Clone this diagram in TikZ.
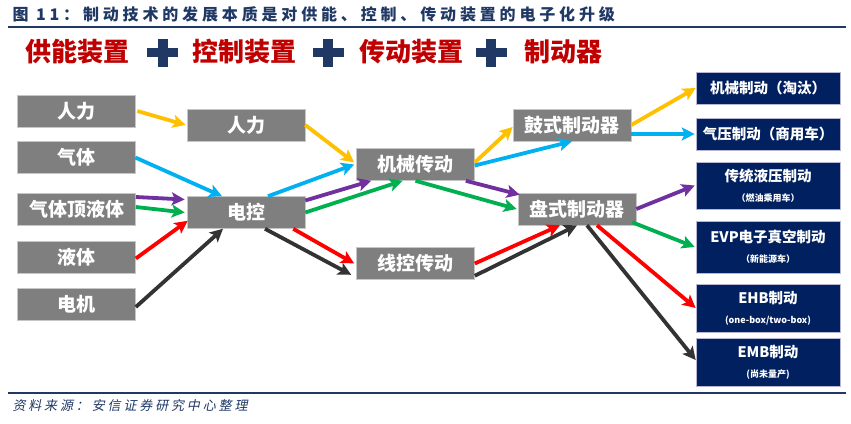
\documentclass[tikz,border=0pt]{standalone}
\usepackage{fontspec}
\setmainfont{Noto Sans CJK SC}
\newfontfamily\titlefont[LetterSpace=24]{Noto Sans CJK SC}
\newfontfamily\footfont[FakeSlant=0.2,LetterSpace=22]{Noto Sans CJK SC}
\usetikzlibrary{arrows.meta}

\definecolor{navy}{RGB}{0,32,96}
\definecolor{titleblue}{RGB}{31,56,100}
\definecolor{headred}{RGB}{192,0,0}
\definecolor{boxgray}{RGB}{127,127,127}
\definecolor{ayellow}{RGB}{255,192,0}
\definecolor{acyan}{RGB}{0,176,240}
\definecolor{apurple}{RGB}{112,48,160}
\definecolor{agreen}{RGB}{0,176,80}
\definecolor{ared}{RGB}{255,0,0}
\definecolor{ablack}{RGB}{51,51,51}

\begin{document}
\begin{tikzpicture}[
        x=1pt, y=1pt,
        graybox/.style={
            fill=boxgray,
            draw=gray!45,
            line width=0.6pt,
            minimum width=118pt,
            minimum height=32pt,
            inner sep=0pt,
            text=white,
            font=\fontsize{19}{22}\selectfont\bfseries
        },
        navybox/.style={
            fill=navy,
            draw=blue!25!gray!45,
            line width=0.6pt,
            minimum width=144pt,
            inner sep=0pt,
            align=center,
            text=white,
            font=\fontsize{14.5}{18}\selectfont\bfseries
        },
        headtext/.style={
            font=\fontsize{26}{30}\selectfont\bfseries,
            text=headred
        },
        flow/.style={
            line width=3.8pt,
            -{Stealth[length=13pt,width=13pt,inset=3pt]}
        }
    ]
        \useasboundingbox (0,0) rectangle (851,423);
        \fill[white] (0,0) rectangle (851,423);

        % Title
        \node[anchor=west, text=titleblue, font=\titlefont\fontsize{16}{18}\selectfont\bfseries] (title) at (9,409)
            {图 11：制动技术的发展本质是对供能、控制、传动装置的电子化升级};
        \draw[titleblue, line width=1.2pt] (8,396) -- (846,396);

        % Header
        \node[headtext] (gn) at (77,371) {供能装置};
        \node[headtext] (kz) at (244.5,371) {控制装置};
        \node[headtext] (cd) at (411.5,371) {传动装置};
        \node[headtext] (zdq) at (563,371) {制动器};
        \foreach \px in {162.5,328,491} {
            \fill[titleblue] (\px-15.5,365.5) rectangle (\px+15.5,374.5);
            \fill[titleblue] (\px-5,356) rectangle (\px+5,384);
        }

        % Power sources
        \node[graybox] (ren1) at (76,312) {人力};
        \node[graybox] (qiti) at (76,265.5) {气体};
        \node[graybox] (qyt) at (76.5,214) {气体顶液体};
        \node[graybox] (yeti) at (76.5,165.5) {液体};
        \node[graybox] (dianji) at (76.5,119) {电机};

        % Control
        \node[graybox] (ren2) at (246,298) {人力};
        \node[graybox] (dk) at (246,210.5) {电控};

        % Transmission
        \node[graybox] (jx) at (415.5,258.5) {机械传动};
        \node[graybox] (xk) at (415.5,159.5) {线控传动};

        % Brakes
        \node[graybox] (gu) at (572,298) {鼓式制动器};
        \node[graybox] (pan) at (577,214) {盘式制动器};

        % Brake systems
        \node[navybox, minimum height=32pt] (jxzd) at (768,335) {机械制动（淘汰）};
        \node[navybox, minimum height=32pt] (qy) at (768,289) {气压制动（商用车）};
        \node[navybox, minimum height=47pt] (ctyy) at (768,237.5)
            {传统液压制动\\[2pt]{\fontsize{9}{11}\selectfont （燃油乘用车）}};
        \node[navybox, minimum height=52pt] (evp) at (768,176)
            {EVP电子真空制动\\[2pt]{\fontsize{9}{11}\selectfont （新能源车）}};
        \node[navybox, minimum height=48pt] (ehb) at (768,115)
            {EHB制动\\[2pt]{\fontsize{9}{11}\selectfont (one-box/two-box)}};
        \node[navybox, minimum height=48pt] (emb) at (768,61)
            {EMB制动\\[2pt]{\fontsize{9}{11}\selectfont (尚未量产)}};

        % Arrows into control
        \draw[flow, ayellow] ([xshift=2pt]ren1.east) -- ([xshift=-1pt]ren2.west);
        \draw[flow, acyan] (qiti.east) -- ([xshift=-24pt]dk.north);
        \draw[flow, apurple] ([yshift=12pt]qyt.east) -- ([xshift=-2pt,yshift=13pt]dk.west);
        \draw[flow, agreen] ([yshift=2pt]qyt.east) -- ([xshift=-2pt]dk.west);
        \draw[flow, ared] ([yshift=-1pt]yeti.east) -- ([xshift=1pt,yshift=8pt]dk.south west);
        \draw[flow, ablack] ([yshift=-3pt]dianji.east) -- ([xshift=-23pt]dk.south);

        % Arrows into transmission
        \draw[flow, ayellow] (ren2.east) -- ([xshift=-2pt,yshift=2pt]jx.west);
        \draw[flow, acyan] ([xshift=22pt]dk.north) -- ([xshift=-2pt]jx.west);
        \draw[flow, apurple] ([yshift=12pt]dk.east) -- ([xshift=15pt]jx.south west);
        \draw[flow, agreen] (dk.east) -- ([xshift=-13pt]jx.south);
        \draw[flow, ared] ([xshift=-12pt]dk.south east) -- ([xshift=-2pt]xk.west);
        \draw[flow, ablack] ([xshift=19pt]dk.south) -- ([xshift=-5pt,yshift=5pt]xk.south west);

        % Arrows into brakes
        \draw[flow, ayellow] ([yshift=2pt]jx.east) -- ([yshift=-2pt]gu.west);
        \draw[flow, acyan] ([yshift=-1pt]jx.east) -- (gu.south);
        \draw[flow, apurple] ([xshift=-9pt]jx.south east) -- ([xshift=2pt,yshift=-2pt]pan.north west);
        \draw[flow, agreen] (jx.south) -- ([xshift=-1pt]pan.west);
        \draw[flow, ared] (xk.east) -- ([xshift=-17pt]pan.south);
        \draw[flow, ablack] ([yshift=4pt]xk.south east) -- (pan.south);

        % Arrows into brake systems
        \draw[flow, ayellow] (gu.east) -- (jxzd.west);
        \draw[flow, acyan] ([yshift=-9pt]gu.east) -- ([xshift=-1pt]qy.west);
        \draw[flow, apurple] (pan.east) -- ([xshift=-1pt]ctyy.west);
        \draw[flow, agreen] ([xshift=-4pt,yshift=3pt]pan.south east) -- ([xshift=-1pt]evp.west);
        \draw[flow, ared] ([xshift=20pt]pan.south) -- (ehb.west);
        \draw[flow, ablack] ([xshift=10pt]pan.south) -- ([yshift=2pt]emb.west);

        % Source
        \draw[titleblue, line width=1.2pt] (8,30) -- (846,30);
        \node[anchor=west, text=titleblue, font=\footfont\fontsize{13}{15}\selectfont] (src) at (9,17)
            {资料来源：安信证券研究中心整理};

    \end{tikzpicture}
\end{document}
